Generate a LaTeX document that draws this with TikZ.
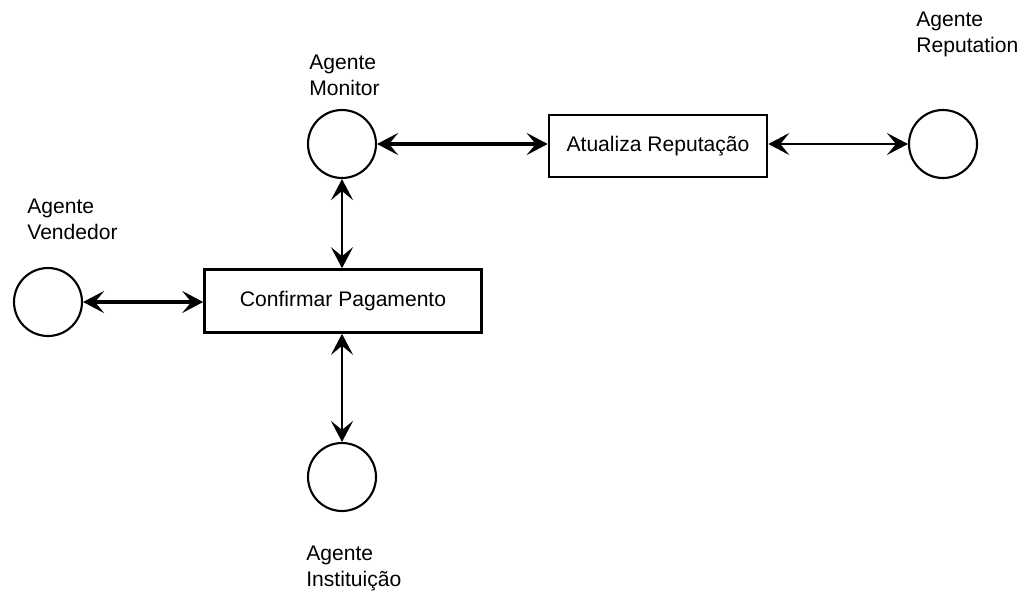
\documentclass[tikz,border=0pt]{standalone}
\usepackage{fontspec}
\setmainfont{Liberation Sans}
\usetikzlibrary{arrows.meta}
\tikzset{
	agent/.style={draw, circle, line width=1.2pt, minimum size=1.36cm, inner sep=0pt},
	task/.style={draw, rectangle, line width=1.5pt, inner sep=0pt},
	tag/.style={align=left, inner sep=0pt, anchor=base west},
	link/.style={{Stealth[length=4.2mm, width=4.4mm, inset=1.8mm]}-{Stealth[length=4.2mm, width=4.4mm, inset=1.8mm]}, line width=1.4pt},
}

\begin{document}
\begin{tikzpicture}[x=0.02cm, y=-0.02cm, font=\fontsize{12}{14.4}\selectfont]
		%%%%% START %%%%%
		\useasboundingbox[fill=white] (0, 0) rectangle (1024, 595);
		
		\node[agent] (mon) at (342, 144) {};
		\node[agent] (rep) at (943, 144) {};
		\node[agent] (ven) at (48, 302) {};
		\node[agent] (inst) at (342, 477) {};
		
		\node[task, minimum width=4.36cm, minimum height=1.24cm] (upd) at (658, 146) {Atualiza Reputação};
		\node[task, minimum width=5.54cm, minimum height=1.26cm] (conf) at (343, 301) {Confirmar Pagamento};
		
		\node[tag] (monlbl) at (309, 95) {Agente\\Monitor};
		\node[tag] (replbl) at (916, 52) {Agente\\Reputation};
		\node[tag] (venlbl) at (27, 239) {Agente\\Vendedor};
		\node[tag] (instlbl) at (306, 586) {Agente\\Instituição};
		
		\draw[link, line width=2.2pt] (mon.east) -- (mon.east -| upd.west);
		\draw[link] (upd.east |- rep.west) -- (rep.west);
		\draw[link, line width=1.6pt] (mon.south) -- (mon.south |- conf.north);
		\draw[link, line width=1.8pt] (ven.east) -- (ven.east -| conf.west);
		\draw[link, line width=1.6pt] (inst.north |- conf.south) -- (inst.north);
		
		%%%%% END %%%%%
	\end{tikzpicture}
\end{document}
